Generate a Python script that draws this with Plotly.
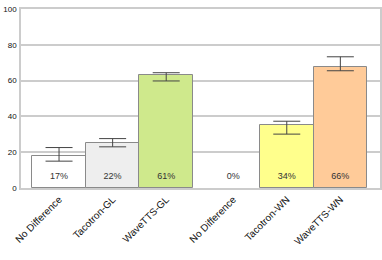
import plotly.graph_objects as go

categories = ["No Difference", "Tacotron-GL", "WaveTTS-GL", "No Difference", "Tacotron-WN", "WaveTTS-WN"]
positions = [0, 1, 2, 3.25, 4.25, 5.25]
values = [17.8, 25.1, 62.9, 0, 35.3, 67.4]
err_plus = [4.8, 2.5, 1.5, 0, 2.0, 5.9]
err_minus = [2.8, 2.1, 3.1, 0, 5.2, 1.9]
percent_labels = ["17%", "22%", "61%", "0%", "34%", "66%"]
colors = ["#ffffff", "#eeeeee", "#cfe98c", "#ffffff", "#ffff8c", "#ffcb99"]
y_ticks = [0, 20, 40, 60, 80, 100]

line_widths = [0 if v == 0 else 1 for v in values]
nz = [i for i, v in enumerate(values) if v != 0]

fig = go.Figure()
fig.add_trace(go.Bar(
    x=positions, y=values, width=1.0,
    marker=dict(color=colors, line=dict(color="#8a8a8a", width=line_widths)),
    showlegend=False, hoverinfo="skip",
))
fig.add_trace(go.Scatter(
    x=[positions[i] for i in nz], y=[values[i] for i in nz], mode="markers",
    marker=dict(size=1, opacity=0),
    error_y=dict(type="data", symmetric=False,
                 array=[err_plus[i] for i in nz], arrayminus=[err_minus[i] for i in nz],
                 color="#444444", thickness=1, width=13.5),
    showlegend=False, hoverinfo="skip",
))
fig.add_trace(go.Scatter(
    x=positions, y=[6.3] * len(positions), mode="text", text=percent_labels,
    textfont=dict(family="Liberation Sans, Arial, sans-serif", size=9, color="#333333"),
    showlegend=False, hoverinfo="skip",
))

fig.update_layout(
    width=382, height=260,
    margin=dict(l=21, r=2, t=9, b=72, autoexpand=False),
    paper_bgcolor="white", plot_bgcolor="white",
    font=dict(family="Liberation Sans, Arial, sans-serif", size=9, color="#111111"),
    bargap=0,
)
fig.update_xaxes(
    range=[-0.71, 5.99], tickvals=positions, ticktext=categories, tickangle=-45,
    showgrid=False, showline=True, linecolor="#cccccc", linewidth=1.5, mirror=True,
    ticks="", tickfont=dict(size=10), automargin=False,
)
fig.update_yaxes(
    range=[0, 100], tickvals=y_ticks, showgrid=True, gridcolor="#cccccc", gridwidth=1.5,
    showline=True, linecolor="#cccccc", linewidth=1.5, mirror=True,
    ticks="", tickfont=dict(size=8), zeroline=False, automargin=False,
    ticklabelstandoff=1,
)
fig.write_html(
    "out.html",
    config={"displayModeBar": False},
    post_script="document.body.style.margin='0';document.body.style.overflow='hidden';",
)
